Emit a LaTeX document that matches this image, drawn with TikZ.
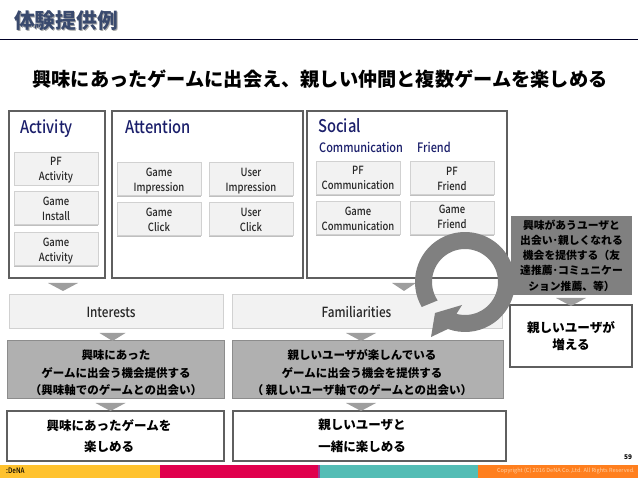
\documentclass[tikz,border=0pt]{standalone}
\usepackage{fontspec}
\setmainfont{Noto Sans CJK JP}
\newfontfamily\labelfont[FakeStretch=0.84]{Noto Sans CJK JP Medium}
\usetikzlibrary{calc,shadows}
\definecolor{navytext}{HTML}{1B1F6B}
\definecolor{titleblue}{HTML}{3A4A6E}
\definecolor{framegray}{HTML}{5F5F5F}
\tikzset{
  panel/.style={draw=framegray,line width=1.3pt,fill=white,inner sep=0pt},
  metric/.style={draw=black!18,fill=black!5,line width=.6pt,inner sep=0pt,minimum width=84pt,minimum height=33pt,
    align=center,font=\labelfont\fontsize{11.3}{15}\selectfont,text=black!85,text height=25pt,text depth=0pt,
    drop shadow={shadow xshift=.4pt,shadow yshift=-1.2pt,opacity=.5}},
  band/.style={draw=black!18,fill=black!5,line width=.6pt,inner sep=0pt,minimum height=34pt,
    drop shadow={shadow xshift=.4pt,shadow yshift=-1.2pt,opacity=.5}},
  bandtext/.style={font=\labelfont\fontsize{14}{15}\selectfont,text=black!85},
  offer/.style={fill=black!31,draw=black!45,line width=.4pt,inner sep=0pt,minimum height=58pt},
  offertext/.style={align=center,font=\bfseries\fontsize{11.5}{17.5}\selectfont},
  result/.style={draw=framegray,line width=1.3pt,fill=white,inner sep=0pt,minimum height=50pt},
  resulttext/.style={align=center,font=\bfseries\fontsize{12.5}{21.5}\selectfont},
  heading/.style={anchor=base west,inner sep=0pt,text=navytext,font=\labelfont\fontsize{17.5}{20}\selectfont},
  subheading/.style={anchor=base west,inner sep=0pt,text=navytext,font=\labelfont\fontsize{13}{15}\selectfont},
}
\begin{document}
\begin{tikzpicture}[x=1pt,y=1pt]
\useasboundingbox (0,0) rectangle (638,479);

% title
\node[anchor=west,inner sep=0pt,text=black!35,font=\bfseries\fontsize{20.8}{22}\selectfont] (titleshadow) at (15,457) {体験提供例};
\node[anchor=west,inner sep=0pt,text=titleblue,font=\bfseries\fontsize{20.8}{22}\selectfont] (title) at (14,458) {体験提供例};
\draw[line width=.8pt,black!85!blue] (0,440) -- (638,440);
\node[inner sep=0pt,font=\bfseries\fontsize{19.2}{22}\selectfont] (headline) at (320,400) {興味にあったゲームに出会え、親しい仲間と複数ゲームを楽しめる};

% upper panels
\node[panel,minimum width=96pt,minimum height=167pt] (activity) at (57,284.5) {};
\node[panel,minimum width=191pt,minimum height=167pt] (attention) at (207.5,284.5) {};
\node[panel,minimum width=200pt,minimum height=167pt] (social) at (407,284.5) {};
\node[heading] (activitylabel) at (20,345) {Activity};
\node[heading] (attentionlabel) at (125,345) {Attention};
\node[heading] (sociallabel) at (318,346) {Social};
\node[subheading] (commlabel) at (319,326) {Communication};
\node[subheading] (friendlabel) at (417,326) {Friend};

\node[metric] (pfactivity) at (56,310.5) {PF\\Activity};
\node[metric] (gameinstall) at (56,271) {Game\\Install};
\node[metric] (gameactivity) at (56,230) {Game\\Activity};
\node[metric] (gameimp) at (159,300) {Game\\Impression};
\node[metric] (userimp) at (251,300) {User\\Impression};
\node[metric] (gameclick) at (159,260) {Game\\Click};
\node[metric] (userclick) at (251,260) {User\\Click};
\node[metric,text height=23pt] (pfcomm) at (358,301) {PF\\Communication};
\node[metric] (pffriend) at (452,301) {PF\\Friend};
\node[metric] (gamecomm) at (358,261) {Game\\Communication};
\node[metric,text height=22pt] (gamefriend) at (452,261) {Game\\Friend};

% middle and lower rows
\node[band,minimum width=214pt] (interests) at (116,168) {};
\node[bandtext] (intereststext) at (111,167) {Interests};
\node[band,minimum width=270pt] (familiar) at (367,168) {};
\node[bandtext] (familiartext) at (356.5,167) {Familiarities};

\node[offer,minimum width=217pt] (offerleft) at (115.5,110) {};
\node[offertext] (offerlefttext) at (116,106) {興味にあった\\ゲームに出会う機会提供する\\（興味軸でのゲームとの出会い）};
\node[offer,minimum width=271pt] (offerright) at (367.5,110) {};
\node[offertext] (offerrighttext) at (362,106) {親しいユーザが楽しんでいる\\ゲームに出会う機会を提供する\\（ 親しいユーザ軸でのゲームとの出会い）};

\node[result,minimum width=217pt] (enjoyleft) at (115.5,43) {};
\node[resulttext] (enjoylefttext) at (109,43) {興味にあったゲームを\\楽しめる};
\node[result,minimum width=273pt] (enjoyright) at (369.5,43) {};
\node[resulttext] (enjoyrighttext) at (362,43) {親しいユーザと\\一緒に楽しめる};

% right column
\node[fill=black!50,inner sep=0pt,minimum width=121pt,minimum height=79pt,align=center,
  font=\bfseries\fontsize{10.8}{15.3}\selectfont] (chance) at (571.5,223.5)
  {興味があうユーザと\\出会い･親しくなれる\\機会を提供する（友\\達推薦･コミュニケー\\ション推薦、等）};
\node[result,minimum width=122pt,minimum height=62pt,align=center,
  font=\bfseries\fontsize{12.6}{17}\selectfont] (increase) at (571,143) {親しいユーザが\\増える};

% triangles between the rows
\foreach \x/\y/\w in {63/196/15,404/196/12,112.5/146/13,361/146/15,110.5/76/15,361/76/15,571/181/15}
  {\fill[black!38] (\x-\w,\y) -- (\x+\w,\y) -- (\x,\y-8) -- cycle;}

% loop arrow
\coordinate (ringc) at (465,197);
\fill[black!50] ($(ringc)+(210:50pt)$) arc[start angle=210,end angle=-110,radius=50pt]
  -- (431,142) -- (435,166) -- (462,174) -- ($(ringc)+(-105:33pt)$)
  arc[start angle=-105,end angle=214,radius=33pt] -- cycle;

% footer
\fill[fill={rgb,255:red,255;green,194;blue,46}] (0,1) rectangle (160,14);
\fill[fill={rgb,255:red,224;green,0;blue,77}] (160,1) rectangle (318,14);
\fill[fill={rgb,255:red,150;green,60;blue,150}] (318,1) rectangle (319.5,14);
\fill[fill={rgb,255:red,84;green,189;blue,181}] (319.5,1) rectangle (478,14);
\fill[fill={rgb,255:red,255;green,127;blue,30}] (478,1) rectangle (638,14);
\node[anchor=west,inner sep=0pt,font=\labelfont\fontsize{7.5}{8}\selectfont] (logo) at (6,8) {:DeNA};
\node[inner sep=0pt,font=\bfseries\fontsize{6.5}{8}\selectfont] (pageno) at (628,21.5) {59};
\node[anchor=east,inner sep=0pt,text=orange!35,font=\fontsize{5.6}{7}\selectfont] (copyright) at (635,8) {Copyright (C) 2016 DeNA Co.,Ltd. All Rights Reserved.};
\end{tikzpicture}
\end{document}
